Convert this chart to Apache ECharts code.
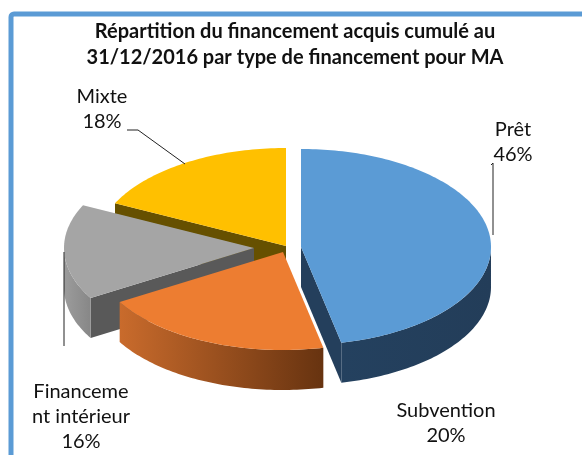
<!DOCTYPE html>
<html><head><meta charset="utf-8">
<style>html,body{margin:0;padding:0;background:#fff}#c{width:582px;height:455px}</style>
<script src="https://cdn.jsdelivr.net/npm/echarts@6/dist/echarts.min.js"></script></head>
<body><div id="c"></div>
<script>
const titleLines = ['Répartition du financement acquis cumulé au','31/12/2016 par type de financement pour MA'];
const categories = ['Prêt','Subvention','Financement intérieur','Mixte'];
const values = [46,20,16,18];
const labelLines = [['Prêt'],['Subvention'],['Financeme','nt intérieur'],['Mixte']];

// layout
const FONT = 'Lato';
const rx = 190, ry = 98, depth = 40, warp = 0.038;
const apex = [[301,247],[283,252],[254,248],[286,246]];
const topFill = ['#5B9BD5','#ED7D31','#A5A5A5','#FFC000'];
const cutFill = ['#243F5C','#6B3511','#595959','#665000'];
const outerFrom = ['#24415F','#C96B2C','#9C9C9C','#665000'];
const outerTo = ['#233D59','#673310','#878787','#665000'];
const drawZ = [40,30,20,10];
const labelPos = [[513,130],[446,411],[81,392],[102,97]];
const leaders = [
  [[491,165],[493,163],[493,235]],
  [[64,252],[64,346]],
  [[127,130],[138,130],[185,164]]
];

const total = values.reduce((a,b)=>a+b,0);
const view = t => t + warp*(1-Math.cos(t))/2;
const pt = (c,t,dy)=>{const v=view(t);return [c[0]+rx*Math.sin(v), c[1]-ry*Math.cos(v)+(dy||0)];};
function arc(c,a,b,dy){const n=Math.max(2,Math.ceil((b-a)/0.02)),o=[];for(let i=0;i<=n;i++)o.push(pt(c,a+(b-a)*i/n,dy));return o;}

function renderItem(params,api){
  const i=params.dataIndex, c=apex[i];
  let before=0; for(let k=0;k<i;k++) before+=values[k];
  const a=before/total*2*Math.PI, b=(before+api.value(0))/total*2*Math.PI;
  const kids=[];
  const sh=(points,fill,z)=>kids.push({type:'polygon',z2:z,shape:{points},style:{fill,stroke:null}});
  const frontA=Math.max(a,Math.PI/2-0.03), frontB=Math.min(b,Math.PI*1.5-0.04);
  // cut faces visible from the viewer
  [a,b].forEach((t,j)=>{
    const s=Math.sin(t);
    if(!((j===1&&s>0.01)||(j===0&&s<-0.01))) return;
    const p=pt(c,t);
    sh([c,p,[p[0],p[1]+depth],[c[0],c[1]+depth]],cutFill[i],drawZ[i]);
  });
  if(frontB>frontA){
    const top=arc(c,frontA,frontB), bot=arc(c,frontA,frontB,depth).reverse();
    sh(top.concat(bot),{type:'linear',x:0,y:0,x2:1,y2:0,colorStops:[{offset:0,color:outerFrom[i]},{offset:1,color:outerTo[i]}]},drawZ[i]+1);
  }
  sh([c].concat(arc(c,a,b)),topFill[i],drawZ[i]+2);
  return {type:'group',children:kids};
}
const textStyle={fontFamily:FONT,fontSize:20,fill:'#111',align:'center',verticalAlign:'middle'};
const graphics=[{type:'rect',shape:{x:11,y:14,width:800,height:700,r:3},style:{fill:'#fff',stroke:'#5B9BD5',lineWidth:5},z:-1}];
leaders.forEach(points=>graphics.push({type:'polyline',shape:{points},style:{fill:null,stroke:'#222',lineWidth:1},z:5}));
labelLines.forEach((lines,i)=>{
  const all=lines.concat([values[i]+'%']);
  all.forEach((t,k)=>graphics.push({type:'text',x:labelPos[i][0],y:labelPos[i][1]+k*25,style:Object.assign({text:t},textStyle),z:6}));
});
titleLines.forEach((t,k)=>graphics.push({type:'text',x:295,y:32+k*25.5,style:{text:t,fontFamily:FONT,fontWeight:'bold',fontSize:20,fill:'#111',align:'center',verticalAlign:'middle'},z:6}));

const chart=echarts.init(document.getElementById('c'),null,{renderer:'canvas'});
chart.setOption({animation:false,backgroundColor:'#fff',
  graphic:{elements:graphics},
  series:[{type:'custom',coordinateSystem:'none',renderItem,clip:false,silent:true,z:2,
    data:values.map((v,i)=>({name:categories[i],value:[v]}))}]
});
</script></body></html>
